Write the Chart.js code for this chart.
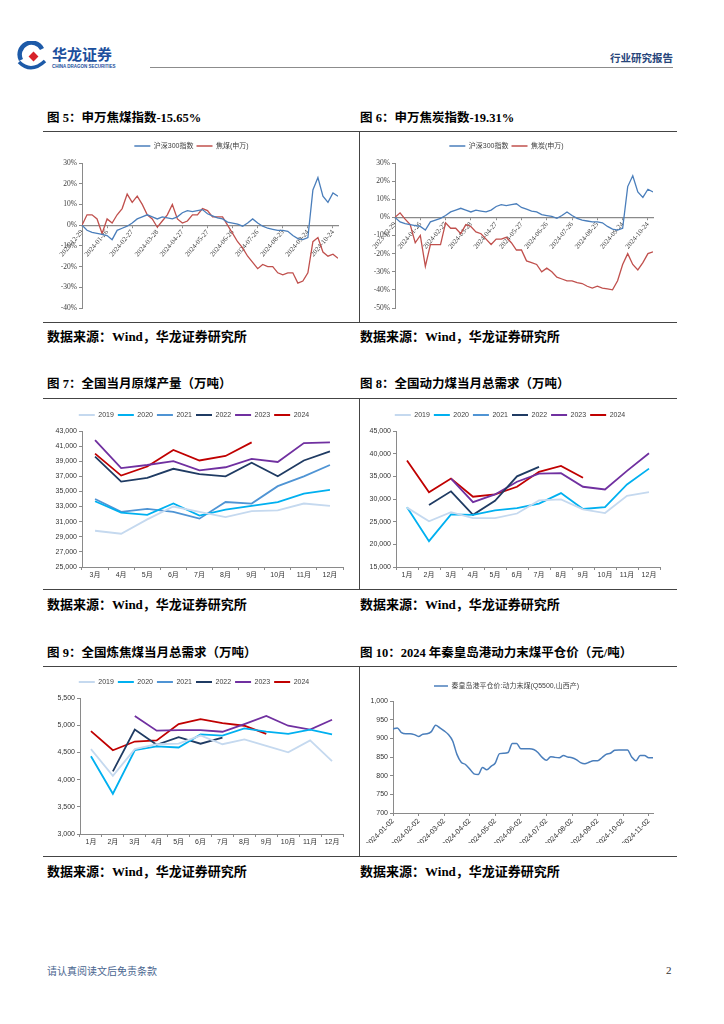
<!DOCTYPE html>
<html>
<head>
<meta charset="utf-8">
<script src="https://cdn.jsdelivr.net/npm/chart.js@4.4.1/dist/chart.umd.min.js"></script>
<style>
  body { margin: 0; background: #fff; }
  #page { position: relative; width: 724px; height: 1024px; overflow: hidden;
          font-family: "Liberation Serif", "Noto Sans CJK SC", serif; color: #000; }
  .abs { position: absolute; }
  .ttl { position: absolute; font-size: 12.5px; font-weight: bold; line-height: 16px; white-space: nowrap; }
  .src { position: absolute; font-size: 13px; font-weight: bold; line-height: 16px; white-space: nowrap; }
  .hl  { position: absolute; height: 0; border-top: 1.5px solid #444; }
  .vl  { position: absolute; width: 0; border-left: 1.5px solid #444; }
  .box { position: absolute; }
</style>
</head>
<body>
<div id="page">
  <!-- header -->
  <svg class="abs" style="left:16px;top:41px" width="32" height="32" viewBox="0 0 32 32">
    <path d="M5 19 A11.5 11.5 0 0 1 26 8" stroke="#1d5aa8" stroke-width="4.5" fill="none"/>
    <path d="M3 21 Q15 33 29 20" stroke="#1d5aa8" stroke-width="3.5" fill="none"/>
    <rect x="14" y="12" width="7" height="7" fill="#d8232a" transform="rotate(45 17.5 15.5)"/>
  </svg>
  <div class="abs" style="left:52px;top:45px;font:bold 15px 'Noto Sans CJK SC';color:#1c4f9c;line-height:18px;">华龙证券</div>
  <div class="abs" style="left:52px;top:64px;font:bold 4.5px 'Liberation Sans';color:#1c4f9c;line-height:5px;">CHINA DRAGON SECURITIES</div>
  <div class="hl" style="left:150px;top:67px;width:523px;border-top:1.5px solid #8c8c8c;"></div>
  <div class="abs" style="left:610px;top:51px;font:bold 10.5px 'Noto Sans CJK SC';color:#27457a;line-height:14px;">行业研究报告</div>

  <!-- row 1 -->
  <div class="ttl" style="left:47px;top:110px;">图 5：申万焦煤指数-15.65%</div>
  <div class="ttl" style="left:360px;top:110px;">图 6：申万焦炭指数-19.31%</div>
  <div class="hl" style="left:43px;top:131px;width:634px;"></div>
  <div class="vl" style="left:359px;top:131px;height:191px;"></div>
  <div class="hl" style="left:43px;top:322px;width:634px;"></div>
  <div class="box" style="left:45px;top:136px;width:313px;height:184px;"><canvas id="c5"></canvas></div>
  <div class="box" style="left:360px;top:136px;width:315px;height:184px;"><canvas id="c6"></canvas></div>
  <div class="src" style="left:47px;top:329px;">数据来源：Wind，华龙证券研究所</div>
  <div class="src" style="left:360px;top:329px;">数据来源：Wind，华龙证券研究所</div>

  <!-- row 2 -->
  <div class="ttl" style="left:47px;top:376px;">图 7：全国当月原煤产量（万吨）</div>
  <div class="ttl" style="left:360px;top:376px;">图 8：全国动力煤当月总需求（万吨）</div>
  <div class="hl" style="left:43px;top:398px;width:634px;"></div>
  <div class="vl" style="left:359px;top:398px;height:191px;"></div>
  <div class="hl" style="left:43px;top:589px;width:634px;"></div>
  <div class="box" style="left:45px;top:400px;width:313px;height:188px;"><canvas id="c7"></canvas></div>
  <div class="box" style="left:360px;top:400px;width:315px;height:188px;"><canvas id="c8"></canvas></div>
  <div class="src" style="left:47px;top:597px;">数据来源：Wind，华龙证券研究所</div>
  <div class="src" style="left:360px;top:597px;">数据来源：Wind，华龙证券研究所</div>

  <!-- row 3 -->
  <div class="ttl" style="left:47px;top:645px;">图 9：全国炼焦煤当月总需求（万吨）</div>
  <div class="ttl" style="left:360px;top:645px;">图 10：2024 年秦皇岛港动力末煤平仓价（元/吨）</div>
  <div class="hl" style="left:43px;top:666px;width:634px;"></div>
  <div class="vl" style="left:359px;top:666px;height:190px;"></div>
  <div class="hl" style="left:43px;top:856px;width:634px;"></div>
  <div class="box" style="left:45px;top:668px;width:313px;height:186px;"><canvas id="c9"></canvas></div>
  <div class="box" style="left:360px;top:668px;width:315px;height:186px;"><canvas id="c10"></canvas></div>
  <div class="src" style="left:47px;top:864px;">数据来源：Wind，华龙证券研究所</div>
  <div class="src" style="left:360px;top:864px;">数据来源：Wind，华龙证券研究所</div>

  <!-- footer -->
  <div class="abs" style="left:47px;top:964px;font:10px 'Noto Sans CJK SC';color:#4a6690;line-height:14px;">请认真阅读文后免责条款</div>
  <div class="abs" style="left:666px;top:963px;font:11px 'Liberation Serif';color:#333;line-height:14px;">2</div>
</div>

<script>
// ---- figure 5 / 6 : index performance (%), one point every few trading days ----
const indexTickDates = ['2023-12-29','2024-01-26','2024-02-27','2024-03-28','2024-04-27','2024-05-27',
                        '2024-06-26','2024-07-26','2024-08-25','2024-09-24','2024-10-24'];
const indexTickStep = 5;
const hs300 = [0, -2.5, -3.5, -4, -4.5, -5, -7, -2.5, -1.5, -0.5, 1, 3, 4, 5, 4, 3, 4, 3.5, 3, 4,
               6, 7, 6.5, 7, 7.5, 5.5, 4.5, 3.5, 3, 1.5, 1, 0.5, -0.5, 1, 3, 1, -0.5, -1.5, -2, -2.5,
               -2.5, -3, -5, -6.5, -7, -6, 17, 23, 14, 11, 15.5, 14];
const cokingCoal = [0, 5, 5, 3, -4, 3, 1, 5, 8, 15, 11, 14, 10, 5, 3, -1, 2, 5, 10, 3,
                    1, 2, 5, 5, 8, 7, 4, 4, 4, 0, -4, -8, -11, -15, -18, -21, -19, -20, -20, -23,
                    -24, -23, -23, -28, -27, -23, -8, -6, -13, -15, -14, -16];
const coke = [0, 2.5, -1, -4, -14, -10, -27, -15, -15, -15, -3, -6, -6, -9, -4, -5, -8, -9, -12, -15,
              -12, -12, -11, -14, -18, -18, -24, -25, -26, -30, -28, -30, -33, -34, -35, -35, -36, -36.5, -38, -39,
              -38, -39, -39.5, -40, -35, -26, -20, -26, -29, -25, -20, -19];

// ---- figure 7 / 8 / 9 : monthly series by year ----
const years = ['2019', '2020', '2021', '2022', '2023', '2024'];
const yearColors = ['#c5d9ef', '#00b0f0', '#4f94d4', '#1f3b63', '#7030a0', '#c00000'];
const monthsMarDec = ['3月','4月','5月','6月','7月','8月','9月','10月','11月','12月'];
const months = ['1月','2月','3月','4月','5月','6月','7月','8月','9月','10月','11月','12月'];

const rawCoal2019 = [29800, 29400, 31300, 33000, 32300, 31600, 32400, 32500, 33400, 33100];
const rawCoal2020 = [33700, 32200, 31900, 33400, 31800, 32600, 33100, 33600, 34700, 35200];
const rawCoal2021 = [34000, 32300, 32700, 32300, 31400, 33600, 33400, 35700, 37000, 38500];
const rawCoal2022 = [39600, 36300, 36800, 38000, 37300, 37000, 38800, 37000, 39100, 40300];
const rawCoal2023 = [41800, 38100, 38500, 39000, 37800, 38200, 39300, 38900, 41400, 41500];
const rawCoal2024 = [40000, 37100, 38300, 40500, 39100, 39700, 41500, null, null, null];

const thermal2019 = [28100, 25100, 27100, 25800, 25800, 26800, 29700, 29900, 27700, 26900, 30700, 31500];
const thermal2020 = [28200, 20700, 26600, 26500, 27500, 28000, 29000, 31300, 27800, 28200, 33200, 36700];
const thermal2021 = [null, null, null, null, null, null, null, null, null, null, null, null];
const thermal2022 = [null, 28700, 31700, 26500, 29600, 35000, 37100, null, null, null, null, null];
const thermal2023 = [null, null, 34500, 29300, 31000, 33800, 35600, 35700, 32700, 32100, 36200, 40100];
const thermal2024 = [38500, 31500, 34500, 30500, 31000, 32700, 36000, 37300, 34700, null, null, null];

const coking2019 = [4560, 4070, 4560, 4650, 4660, 4810, 4650, 4740, 4620, 4500, 4720, 4340];
const coking2020 = [4430, 3740, 4540, 4610, 4590, 4830, 4810, 4940, 4880, 4840, 4920, 4830];
const coking2021 = [null, null, null, null, null, null, null, null, null, null, null, null];
const coking2022 = [null, 4150, 4920, 4640, 4780, 4660, 4770, null, null, null, null, null];
const coking2023 = [null, null, 5170, 4900, 4910, 4910, 4880, 5020, 5170, 4990, 4920, 5100];
const coking2024 = [4890, 4540, 4700, 4720, 5020, 5110, 5040, 4990, 4840, null, null, null];

// ---- figure 10 : Qinhuangdao thermal coal price, ~5-day samples ----
const priceTickDates = ['2024-01-02','2024-02-02','2024-03-02','2024-04-02','2024-05-02','2024-06-02',
                        '2024-07-02','2024-08-02','2024-09-02','2024-10-02','2024-11-02'];
const priceTickStep = 6;
const qhdPrice = [925, 928, 915, 912, 912, 910, 905, 911, 912, 918, 935, 928, 920, 910, 893, 857,
                  836, 830, 818, 805, 803, 822, 816, 825, 834, 859, 860, 862, 886, 886, 872, 872,
                  872, 870, 862, 849, 841, 851, 849, 848, 854, 850, 848, 843, 835, 832, 836, 840,
                  840, 848, 857, 860, 868, 869, 869, 869, 850, 840, 854, 854, 848, 848];

Chart.defaults.animation = false;
Chart.defaults.responsive = true;
Chart.defaults.maintainAspectRatio = false;
Chart.defaults.color = '#404040';
Chart.defaults.plugins.tooltip.enabled = false;

const SERIF = "'Liberation Serif', 'Noto Sans CJK SC', serif";
const SANS = "'Liberation Sans', 'Noto Sans CJK SC', sans-serif";
const AXIS = '#8a8a8a';

// fixes the legend block height so the plot top lands where the original has it
function legendHeight(h) {
  return {
    id: 'legendHeight',
    beforeInit(chart) {
      const fit = chart.legend.fit;
      chart.legend.fit = function () { fit.call(this); this.height = h; };
    }
  };
}

function legendOpts(size, family, padding, lineW) {
  return {
    position: 'top',
    labels: {
      usePointStyle: true, pointStyle: 'line', pointStyleWidth: lineW,
      boxHeight: size, padding, color: '#404040', font: { size, family }
    }
  };
}

function lineSet(label, data, color, width) {
  return {
    label, data, borderColor: color, backgroundColor: color,
    borderWidth: width, pointRadius: 0, pointBorderWidth: width, pointBorderColor: color,
    tension: 0, spanGaps: false
  };
}

const toXY = arr => arr.map((v, i) => ({ x: i, y: v }));

function indexChart(id, redLabel, redData, yMin, yWidth, pad) {
  new Chart(document.getElementById(id), {
    type: 'line',
    data: {
      datasets: [
        lineSet('沪深300指数', toXY(hs300), '#4a7ebb', 1.3),
        lineSet(redLabel, toXY(redData), '#c0504d', 1.3)
      ]
    },
    options: {
      layout: { padding: pad },
      plugins: { legend: legendOpts(7, SANS, 3, 16) },
      scales: {
        x: {
          type: 'linear', min: 0, max: hs300.length - 1, position: { y: 0 },
          afterBuildTicks: s => { s.ticks = indexTickDates.map((_, i) => ({ value: i * indexTickStep })); },
          ticks: {
            autoSkip: false, minRotation: 50, maxRotation: 50, padding: 1,
            font: { size: 7, family: SERIF }, color: '#404040',
            callback: v => indexTickDates[v / indexTickStep]
          },
          grid: { drawOnChartArea: false, drawTicks: true, tickLength: 2, color: AXIS },
          border: { color: AXIS, width: 1.2 }
        },
        y: {
          min: yMin, max: 30,
          afterFit: s => { s.width = yWidth; },
          ticks: { stepSize: 10, padding: 2, font: { size: 7.5, family: SERIF }, callback: v => v + '%' },
          grid: { drawOnChartArea: false, drawTicks: true, tickLength: 3, color: AXIS },
          border: { color: AXIS, width: 1 }
        }
      }
    },
    plugins: [legendHeight(23.5)]
  });
}

indexChart('c5', '焦煤(申万)', cokingCoal, -40, 37, { top: 3.5, left: 0, right: 20, bottom: 12 });
indexChart('c6', '焦炭(申万)', coke, -50, 35, { top: 3.5, left: 0, right: 22, bottom: 12 });

function yearChart(id, labels, series, yMin, yMax, step, yWidth, pad) {
  new Chart(document.getElementById(id), {
    type: 'line',
    data: {
      labels,
      datasets: years.map((y, i) => lineSet(y, series[i], yearColors[i], 1.8))
    },
    options: {
      layout: { padding: pad },
      plugins: { legend: legendOpts(7, SANS, 4, 16) },
      scales: {
        x: {
          offset: true,
          afterFit: s => { s.height = 16; },
          ticks: { padding: 1, font: { size: 7, family: SANS }, color: '#333' },
          grid: { offset: true, drawOnChartArea: false, drawTicks: true, tickLength: 3, color: AXIS },
          border: { color: AXIS, width: 1 }
        },
        y: {
          min: yMin, max: yMax,
          afterFit: s => { s.width = yWidth; },
          ticks: { stepSize: step, padding: 2, font: { size: 7, family: SANS }, color: '#333',
                   callback: v => v.toLocaleString('en-US') },
          grid: { drawOnChartArea: false, drawTicks: true, tickLength: 3, color: AXIS },
          border: { color: AXIS, width: 1 }
        }
      }
    },
    plugins: [legendHeight(23.5)]
  });
}

yearChart('c7', monthsMarDec,
  [rawCoal2019, rawCoal2020, rawCoal2021, rawCoal2022, rawCoal2023, rawCoal2024],
  25000, 43000, 2000, 37, { top: 7.5, left: 0, right: 15, bottom: 5 });
yearChart('c8', months,
  [thermal2019, thermal2020, thermal2021, thermal2022, thermal2023, thermal2024],
  15000, 45000, 5000, 36, { top: 7.5, left: 0, right: 15, bottom: 5 });
yearChart('c9', months,
  [coking2019, coking2020, coking2021, coking2022, coking2023, coking2024],
  3000, 5500, 500, 35, { top: 6.5, left: 0, right: 15, bottom: 4 });

new Chart(document.getElementById('c10'), {
  type: 'line',
  data: {
    datasets: [Object.assign(
      lineSet('秦皇岛港平仓价:动力末煤(Q5500,山西产)', toXY(qhdPrice), '#4a7ebb', 1.5),
      { cubicInterpolationMode: 'monotone' })]
  },
  options: {
    layout: { padding: { top: 10.5, left: 0, right: 22, bottom: 11 } },
    plugins: { legend: legendOpts(7, SANS, 4, 14) },
    scales: {
      x: {
        type: 'linear', min: 0, max: qhdPrice.length - 1,
        afterBuildTicks: s => { s.ticks = priceTickDates.map((_, i) => ({ value: i * priceTickStep })); },
        afterFit: s => { s.height = 30; },
        ticks: {
          autoSkip: false, minRotation: 45, maxRotation: 45, padding: 1,
          font: { size: 7.2, family: SANS }, color: '#333',
          callback: v => priceTickDates[v / priceTickStep]
        },
        grid: { drawOnChartArea: false, drawTicks: true, tickLength: 3, color: AXIS },
        border: { color: AXIS, width: 1 }
      },
      y: {
        min: 700, max: 1000,
        afterFit: s => { s.width = 33; },
        ticks: { stepSize: 50, padding: 2, font: { size: 7, family: SANS }, color: '#333',
                 callback: v => v.toLocaleString('en-US') },
        grid: { drawOnChartArea: false, drawTicks: true, tickLength: 3, color: AXIS },
        border: { color: AXIS, width: 1 }
      }
    }
  },
  plugins: [legendHeight(22.5)]
});
</script>
</body>
</html>
